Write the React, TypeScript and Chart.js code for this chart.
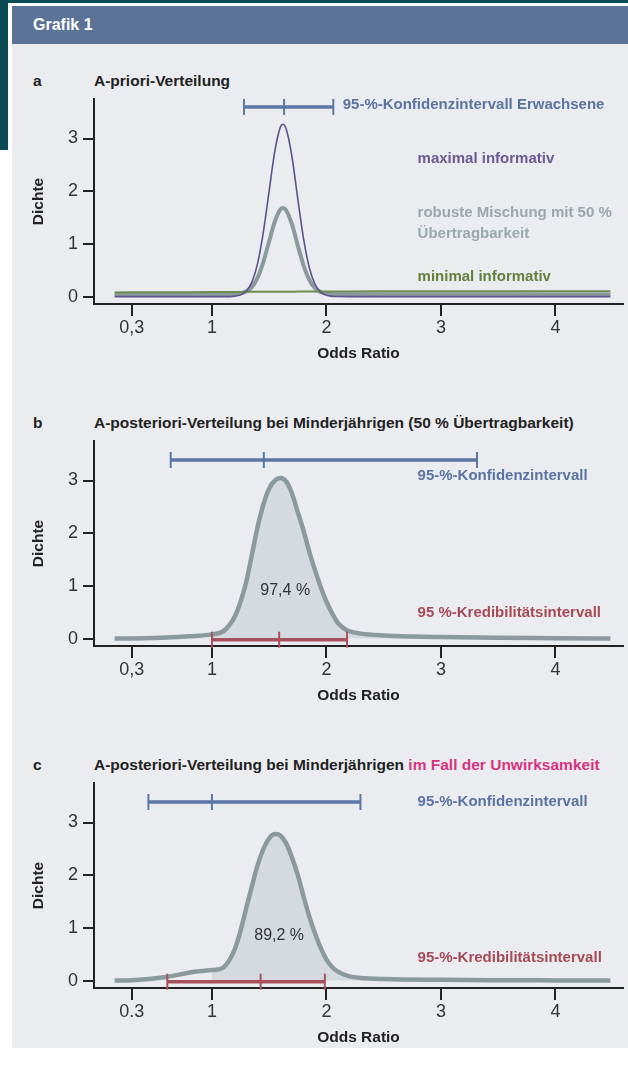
import React, { useEffect, useRef } from 'react';
import { Chart, registerables } from 'chart.js';
Chart.register(...registerables);

const FONT = '"Liberation Sans", Arial, Helvetica, sans-serif';

// ---------- data ----------
const PRIOR_OR = [0.15, 0.5, 0.8, 1.0, 1.1, 1.2, 1.25, 1.3, 1.35, 1.4, 1.45, 1.5, 1.55, 1.6, 1.62, 1.65, 1.7, 1.75, 1.8, 1.85, 1.9, 1.95, 2.0, 2.1, 2.2, 2.5, 3.0, 3.5, 4.0, 4.48];
const PRIOR_MAXIMAL = [0, 0, 0, 0, 0, 0.01, 0.033, 0.106, 0.28, 0.64, 1.24, 2.01, 2.77, 3.23, 3.27, 3.17, 2.64, 1.85, 1.1, 0.553, 0.235, 0.085, 0.026, 0.002, 0, 0, 0, 0, 0, 0];
const PRIOR_ROBUST = [0.045, 0.045, 0.045, 0.045, 0.045, 0.05, 0.06, 0.1, 0.185, 0.365, 0.665, 1.05, 1.43, 1.66, 1.68, 1.63, 1.365, 0.97, 0.595, 0.32, 0.16, 0.085, 0.058, 0.046, 0.045, 0.045, 0.044, 0.043, 0.042, 0.042];
const PRIOR_MINIMAL = [0.08, 0.082, 0.085, 0.087, 0.088, 0.089, 0.09, 0.09, 0.091, 0.091, 0.092, 0.092, 0.093, 0.093, 0.093, 0.094, 0.094, 0.095, 0.095, 0.096, 0.096, 0.097, 0.097, 0.098, 0.099, 0.1, 0.1, 0.1, 0.1, 0.1];

const POST_B_OR = [0.15, 0.4, 0.6, 0.8, 1.0, 1.1, 1.15, 1.2, 1.25, 1.3, 1.35, 1.4, 1.45, 1.5, 1.55, 1.6, 1.65, 1.7, 1.75, 1.8, 1.85, 1.9, 1.95, 2.0, 2.05, 2.1, 2.15, 2.2, 2.3, 2.5, 2.75, 3.0, 3.5, 4.0, 4.48];
const POST_B_DENS = [0.0, 0.005, 0.02, 0.045, 0.08, 0.14, 0.25, 0.42, 0.7, 1.08, 1.6, 2.13, 2.55, 2.85, 3.0, 3.05, 2.98, 2.75, 2.4, 2.05, 1.65, 1.3, 0.98, 0.7, 0.48, 0.3, 0.2, 0.14, 0.095, 0.06, 0.04, 0.03, 0.015, 0.008, 0.0];

const POST_C_OR = [0.15, 0.3, 0.45, 0.6, 0.75, 0.85, 0.95, 1.0, 1.05, 1.1, 1.15, 1.2, 1.25, 1.3, 1.35, 1.4, 1.45, 1.5, 1.55, 1.6, 1.65, 1.7, 1.75, 1.8, 1.85, 1.9, 1.95, 2.0, 2.05, 2.1, 2.2, 2.3, 2.5, 3.0, 3.5, 4.0, 4.48];
const POST_C_DENS = [0.0, 0.005, 0.03, 0.07, 0.13, 0.17, 0.19, 0.2, 0.21, 0.25, 0.38, 0.6, 0.95, 1.38, 1.8, 2.2, 2.5, 2.7, 2.78, 2.75, 2.6, 2.33, 2.0, 1.6, 1.22, 0.9, 0.62, 0.4, 0.26, 0.17, 0.08, 0.05, 0.03, 0.015, 0.008, 0.004, 0.0];

// intervals: [lower, point, upper]
const CI_ADULTS = [1.28, 1.63, 2.06];
const CI_B = [0.64, 1.453, 3.315];
const CRI_B = [1.0, 1.587, 2.18];
const CI_C = [0.445, 1.0, 2.297];
const CRI_C = [0.61, 1.425, 1.986];
const PROB_B = '97,4 %';
const PROB_C = '89,2 %';

const X_TICKS = [0.3, 1, 2, 3, 4];
const X_LABELS_AB = ['0,3', '1', '2', '3', '4'];
const X_LABELS_C = ['0.3', '1', '2', '3', '4'];
const Y_TICKS = [0, 1, 2, 3];
const Y_LABELS = ['0', '1', '2', '3'];

// ---------- styles ----------
const C_GRAY = '#8b9b9d';
const C_FILL = '#d5dae1';
const C_PURPLE = '#5f5190';
const C_GREEN = '#6e8a4c';
const C_BLUE = '#5a77a5';
const C_RED = '#a8505b';
const T_BLUE = '#5a73a0';
const T_PURPLE = '#6a5a93';
const T_ROBUST = '#9aa8a9';
const T_GREEN = '#63803c';
const T_RED = '#a54a56';
const AXIS = '#222222';

const pts = (xs: number[], ys: number[]) => xs.map((x, i) => ({ x, y: ys[i] }));
const ptsFrom = (xs: number[], ys: number[], from: number) =>
  xs.map((x, i) => ({ x, y: ys[i] })).filter((p) => p.x >= from);

const lineDs = (data: any[], color: string, width: number) => ({
  data, borderColor: color, borderWidth: width, pointRadius: 0, fill: false,
  cubicInterpolationMode: 'monotone' as const,
});

const PANELS = [
  {
    letter: 'a',
    title: [{ text: 'A-priori-Verteilung', color: '#222' }],
    xLabels: X_LABELS_AB,
    datasets: [
      lineDs(pts(PRIOR_OR, PRIOR_MAXIMAL), C_PURPLE, 1.6),
      lineDs(pts(PRIOR_OR, PRIOR_MINIMAL), C_GREEN, 2),
      lineDs(pts(PRIOR_OR, PRIOR_ROBUST), C_GRAY, 4),
    ],
    intervals: [{ v: CI_ADULTS, y: 3.6, color: C_BLUE }],
    labels: [
      { text: '95-%-Konfidenzintervall Erwachsene', x: 2.142, y: 3.63, color: T_BLUE, bold: true },
      { text: 'maximal informativ', x: 2.796, y: 2.61, color: T_PURPLE, bold: true },
      { text: 'robuste Mischung mit 50 %', x: 2.796, y: 1.59, color: T_ROBUST, bold: true },
      { text: 'Übertragbarkeit', x: 2.796, y: 1.2, color: T_ROBUST, bold: true },
      { text: 'minimal informativ', x: 2.796, y: 0.38, color: T_GREEN, bold: true },
    ],
  },
  {
    letter: 'b',
    title: [{ text: 'A-posteriori-Verteilung bei Minderjährigen (50 % Übertragbarkeit)', color: '#222' }],
    xLabels: X_LABELS_AB,
    datasets: [
      lineDs(pts(POST_B_OR, POST_B_DENS), C_GRAY, 4.5),
      { ...lineDs(ptsFrom(POST_B_OR, POST_B_DENS, 1), 'rgba(0,0,0,0)', 0), fill: 'origin', backgroundColor: C_FILL },
    ],
    intervals: [
      { v: CI_B, y: 3.39, color: C_BLUE },
      { v: CRI_B, y: -0.02, color: C_RED },
    ],
    labels: [
      { text: '95-%-Konfidenzintervall', x: 2.796, y: 3.09, color: T_BLUE, bold: true },
      { text: '95 %-Kredibilitätsintervall', x: 2.796, y: 0.48, color: T_RED, bold: true },
      { text: PROB_B, x: 1.64, y: 0.915, color: '#333', bold: false, center: true },
    ],
  },
  {
    letter: 'c',
    title: [
      { text: 'A-posteriori-Verteilung bei Minderjährigen ', color: '#222' },
      { text: 'im Fall der Unwirksamkeit', color: '#d6347f' },
    ],
    xLabels: X_LABELS_C,
    datasets: [
      lineDs(pts(POST_C_OR, POST_C_DENS), C_GRAY, 4.5),
      { ...lineDs(ptsFrom(POST_C_OR, POST_C_DENS, 1), 'rgba(0,0,0,0)', 0), fill: 'origin', backgroundColor: C_FILL },
    ],
    intervals: [
      { v: CI_C, y: 3.39, color: C_BLUE },
      { v: CRI_C, y: -0.02, color: C_RED },
    ],
    labels: [
      { text: '95-%-Konfidenzintervall', x: 2.796, y: 3.4, color: T_BLUE, bold: true },
      { text: '95-%-Kredibilitätsintervall', x: 2.796, y: 0.44, color: T_RED, bold: true },
      { text: PROB_C, x: 1.587, y: 0.85, color: '#333', bold: false, center: true },
    ],
  },
];

const annotPlugin = (cfg: any) => ({
  id: 'annot' + cfg.letter,
  afterDatasetsDraw(chart: any) {
    const ctx = chart.ctx;
    const xs = chart.scales.x;
    const ys = chart.scales.y;
    ctx.save();
    for (const iv of cfg.intervals) {
      const py = ys.getPixelForValue(iv.y);
      const [lo, mid, hi] = iv.v.map((v: number) => xs.getPixelForValue(v));
      ctx.strokeStyle = iv.color;
      ctx.lineWidth = 3.5;
      ctx.beginPath();
      ctx.moveTo(lo, py);
      ctx.lineTo(hi, py);
      ctx.stroke();
      ctx.lineWidth = 2;
      for (const px of [lo, mid, hi]) {
        ctx.beginPath();
        ctx.moveTo(px, py - 8);
        ctx.lineTo(px, py + 8);
        ctx.stroke();
      }
    }
    for (const l of cfg.labels) {
      ctx.fillStyle = l.color;
      ctx.font = `${l.bold ? 'bold ' : ''}${l.bold ? 15 : 16}px ${FONT}`;
      ctx.textBaseline = 'middle';
      ctx.textAlign = l.center ? 'center' : 'left';
      ctx.fillText(l.text, xs.getPixelForValue(l.x), ys.getPixelForValue(l.y));
    }
    ctx.restore();
  },
});

function Panel({ cfg, top }: { cfg: any; top: number }) {
  const ref = useRef<HTMLCanvasElement>(null);
  useEffect(() => {
    const chart = new Chart(ref.current as HTMLCanvasElement, {
      type: 'line',
      data: { datasets: cfg.datasets },
      options: {
        animation: false,
        responsive: false,
        devicePixelRatio: 1,
        layout: { padding: { top: 9, right: 5, left: 0, bottom: 0 } },
        plugins: { legend: { display: false }, tooltip: { enabled: false } },
        scales: {
          x: {
            type: 'linear',
            min: -0.03,
            max: 4.59,
            afterFit: (s: any) => {
              s.height = 68;
              s.paddingLeft = 0;
              s.paddingRight = 0;
            },
            afterBuildTicks: (s: any) => { s.ticks = X_TICKS.map((v) => ({ value: v })); },
            ticks: {
              callback: (_v: any, i: number) => cfg.xLabels[i],
              font: { family: FONT, size: 18 },
              color: '#333',
              padding: 1,
              autoSkip: false,
              maxRotation: 0,
            },
            grid: { drawOnChartArea: false, drawTicks: true, tickLength: 12, tickWidth: 2, tickColor: AXIS, color: AXIS, lineWidth: 2 },
            border: { display: true, color: AXIS, width: 2 },
            title: { display: true, text: 'Odds Ratio', color: '#222', font: { family: FONT, size: 15.5, weight: 'bold' }, padding: { top: 0, bottom: 8.7 } },
          },
          y: {
            type: 'linear',
            min: -0.14,
            max: 3.75,
            afterFit: (s: any) => {
              s.width = 82;
              s.paddingTop = 0;
              s.paddingBottom = 0;
            },
            afterBuildTicks: (s: any) => { s.ticks = Y_TICKS.map((v) => ({ value: v })); },
            ticks: {
              callback: (_v: any, i: number) => Y_LABELS[i],
              font: { family: FONT, size: 18 },
              color: '#333',
              padding: 5,
            },
            grid: { drawOnChartArea: false, drawTicks: true, tickLength: 11, tickWidth: 2, tickColor: AXIS, color: AXIS, lineWidth: 2 },
            border: { display: true, color: AXIS, width: 2 },
            title: { display: true, text: 'Dichte', color: '#222', font: { family: FONT, size: 15.5, weight: 'bold' }, padding: { top: 17.7, bottom: 0 } },
          },
        },
      } as any,
      plugins: [annotPlugin(cfg)],
    });
    return () => chart.destroy();
  }, [cfg]);
  return (
    <canvas
      ref={ref}
      width={616}
      height={282}
      style={{ position: 'absolute', left: 12, top, width: 616, height: 282 }}
    />
  );
}

const textBase: React.CSSProperties = {
  position: 'absolute',
  fontFamily: FONT,
  fontWeight: 'bold',
  whiteSpace: 'nowrap',
  height: 22,
  lineHeight: '22px',
};

export default function App() {
  const offsets = [0, 342, 684];
  return (
    <div style={{ position: 'absolute', left: 0, top: 0, width: 628, height: 1071, background: '#ffffff', overflow: 'hidden' }}>
      <div style={{ position: 'absolute', left: 0, top: 0, width: 628, height: 3, background: '#0a4a55' }} />
      <div style={{ position: 'absolute', left: 0, top: 0, width: 8, height: 150, background: '#0a4a55' }} />
      <div style={{ position: 'absolute', left: 12, top: 6, width: 616, height: 1042, background: '#ebecf0' }} />
      <div style={{ position: 'absolute', left: 12, top: 6, width: 616, height: 38, background: '#5a7396' }} />
      <div style={{ ...textBase, left: 33, top: 14, color: '#ffffff', fontSize: 16 }}>Grafik 1</div>
      {PANELS.map((p, i) => (
        <React.Fragment key={p.letter}>
          <div style={{ ...textBase, left: 33, top: 70 + offsets[i], color: '#222', fontSize: 15.5 }}>{p.letter}</div>
          <div style={{ ...textBase, left: 94, top: 70 + offsets[i], fontSize: 15.5 }}>
            {p.title.map((t, j) => (
              <span key={j} style={{ color: t.color }}>{t.text}</span>
            ))}
          </div>
          <Panel cfg={p} top={90 + offsets[i]} />
        </React.Fragment>
      ))}
    </div>
  );
}
